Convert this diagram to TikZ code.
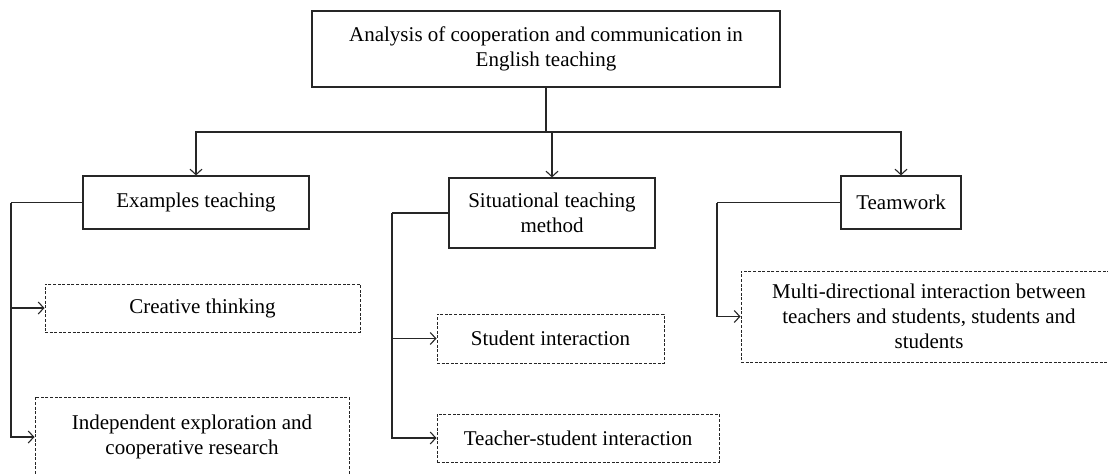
\documentclass[tikz,border=0pt]{standalone}
\usepackage{fontspec}
\setmainfont{Liberation Serif}
\usetikzlibrary{arrows.meta}
\tikzset{
  box/.style={draw=black!85, line width=1.2pt, inner sep=0pt, align=center,
    font=\fontsize{21}{25}\selectfont},
  dbox/.style={box, dash pattern=on 3pt off 1.6pt, line width=1pt},
  conn/.style={draw=black!85, line width=1.2pt},
  arr/.style={conn, -{Straight Barb[length=5.5pt,width=12pt,line width=1.1pt]}},
}
\begin{document}
\begin{tikzpicture}[x=1pt,y=-1pt]
\clip (0,0) rectangle (1108,474);
\fill[white] (0,0) rectangle (1108,474);
% main boxes
\node[box, minimum width=468pt, minimum height=76pt] (top) at (546,49)
  {Analysis of cooperation and communication in\\English teaching};
\node[box, minimum width=226pt, minimum height=53pt] (ex) at (196,202.5) {Examples teaching};
\node[box, minimum width=206pt, minimum height=70pt] (sit) at (552,213) {Situational teaching\\method};
\node[box, minimum width=120pt, minimum height=53pt] (tw) at (901,202.5) {Teamwork};
% dashed boxes
\node[dbox, minimum width=315pt, minimum height=48pt] (ct) at (202.5,308) {Creative thinking};
\node[dbox, minimum width=314pt, minimum height=80pt] (ie) at (192,437) {Independent exploration and\\cooperative research};
\node[dbox, minimum width=227pt, minimum height=49pt] (si) at (550.5,338.5) {Student interaction};
\node[dbox, minimum width=282pt, minimum height=48pt] (ts) at (578,438) {Teacher-student interaction};
\node[dbox, minimum width=376pt, minimum height=91pt] (md) at (929,316.5)
  {Multi-directional interaction between\\teachers and students, students and\\students};
% top connectors
\coordinate (j) at (546,132);
\draw[conn] (top.south) -- (j);
\draw[arr] (j) -| (ex.north);
\draw[arr] (j) -| (sit.north);
\draw[arr] (j) -| (tw.north);
% left connectors
\coordinate (exc) at (11,202.5);
\draw[conn] (ex.west) -- (exc);
\draw[arr] (exc) |- (ct.west);
\draw[arr] (exc) |- (ie.west);
\coordinate (sitc) at (392,213);
\draw[conn] (sit.west) -- (sitc);
\draw[arr] (sitc) |- (si.west);
\draw[arr] (sitc) |- (ts.west);
\coordinate (twc) at (717,202.5);
\draw[conn] (tw.west) -- (twc);
\draw[arr] (twc) |- (md.west);
\end{tikzpicture}
\end{document}
